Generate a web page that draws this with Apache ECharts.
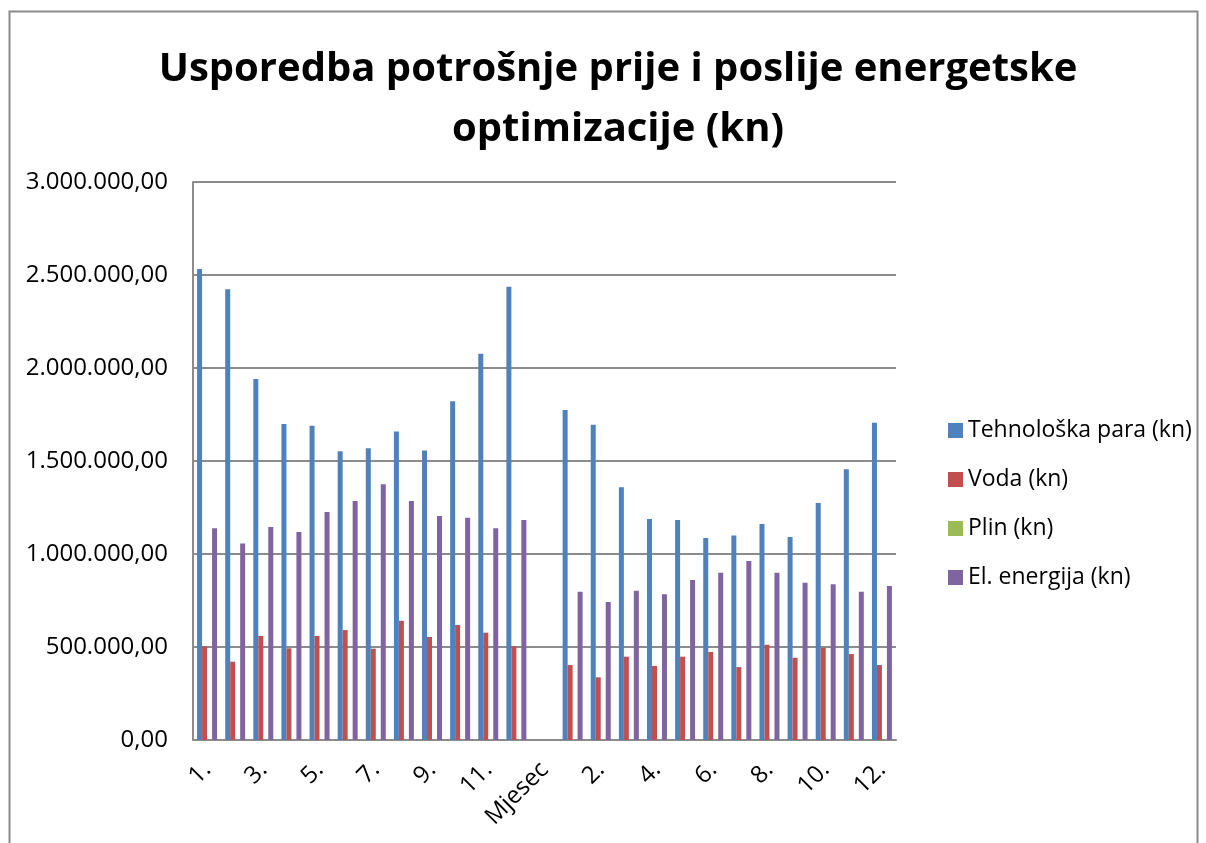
<!DOCTYPE html>
<html>
<head>
<meta charset="utf-8">
<script src="https://cdn.jsdelivr.net/npm/echarts@6/dist/echarts.min.js"></script>
<style>
  html, body { margin: 0; padding: 0; background: #fff; }
  #chart { width: 1206px; height: 843px; }
</style>
</head>
<body>
<div id="chart"></div>
<script>
// months before (1.-12.), the "Mjesec" header slot, then months after
var months = ['1.', '2.', '3.', '4.', '5.', '6.', '7.', '8.', '9.', '10.', '11.', '12.'];
var categories = months.concat(['Mjesec'], months);

var seriesNames = ['Tehnološka para (kn)', 'Voda (kn)', 'Plin (kn)', 'El. energija (kn)'];
var colors = ['#4F81BD', '#C0504D', '#9BBB59', '#8064A2'];

var para = [2532000, 2423000, 1941000, 1699000, 1690000, 1552000, 1568000, 1658000, 1557000, 1821000, 2077000, 2437000,
  null,
  1774000, 1695000, 1359000, 1188000, 1183000, 1086000, 1100000, 1161000, 1091000, 1274000, 1455000, 1706000];
var voda = [504000, 421000, 559000, 493000, 559000, 591000, 491000, 641000, 554000, 618000, 577000, 504000,
  null,
  403000, 337000, 448000, 398000, 448000, 473000, 392000, 512000, 442000, 495000, 462000, 403000];
var plin = [0, 0, 0, 0, 0, 0, 0, 0, 0, 0, 0, 0,
  null,
  0, 0, 0, 0, 0, 0, 0, 0, 0, 0, 0, 0];
var struja = [1138000, 1057000, 1145000, 1118000, 1226000, 1285000, 1375000, 1285000, 1204000, 1195000, 1138000, 1183000,
  null,
  797000, 742000, 803000, 783000, 860000, 899000, 962000, 899000, 846000, 837000, 797000, 828000];

var values = [para, voda, plin, struja];

var fmt = v => {
  var s = Math.round(v).toString().replace(/\B(?=(\d{3})+(?!\d))/g, '.');
  return s + ',00';
};

var chart = echarts.init(document.getElementById('chart'));
var font = '"Open Sans", "Noto Sans", sans-serif';

var option = {
  animation: false,
  color: colors,
  textStyle: { fontFamily: font },
  title: {
    text: 'Usporedba potrošnje prije i poslije energetske\noptimizacije (kn)',
    left: 613,
    top: 35,
    textAlign: 'center',
    textStyle: { fontFamily: font, fontSize: 40, fontWeight: 'bold', color: '#000', lineHeight: 60 }
  },
  legend: {
    orient: 'vertical',
    left: 943,
    top: 410,
    itemWidth: 15,
    itemHeight: 15,
    itemGap: 18,
    icon: 'rect',
    data: seriesNames,
    textStyle: { fontFamily: font, fontSize: 23, color: '#000', lineHeight: 31 }
  },
  grid: { left: 193, right: 310, top: 182, bottom: 103 },
  xAxis: {
    type: 'category',
    data: categories,
    axisLine: { lineStyle: { color: '#8c8c8c', width: 2 } },
    axisTick: { show: false },
    axisLabel: {
      interval: 1,
      rotate: 45,
      margin: 26,
      fontFamily: font,
      fontSize: 24,
      color: '#000'
    }
  },
  yAxis: {
    type: 'value',
    min: 0,
    max: 3000000,
    interval: 500000,
    axisLine: { show: true, lineStyle: { color: '#8c8c8c', width: 2 } },
    axisTick: { show: false },
    splitLine: { lineStyle: { color: '#8c8c8c', width: 2 } },
    axisLabel: {
      margin: 25,
      fontFamily: font,
      fontSize: 24,
      color: '#000',
      formatter: fmt
    }
  },
  series: seriesNames.map((name, i) => ({
    name: name,
    type: 'bar',
    data: values[i],
    barGap: '0%',
    barCategoryGap: '29%',
    itemStyle: { color: colors[i] }
  })),
  graphic: [{
    type: 'rect',
    shape: { x: 9.5, y: 11.5, width: 1188, height: 900 },
    style: { fill: null, stroke: '#8a8a8a', lineWidth: 2 },
    silent: true
  }]
};

chart.setOption(option);
</script>
</body>
</html>
